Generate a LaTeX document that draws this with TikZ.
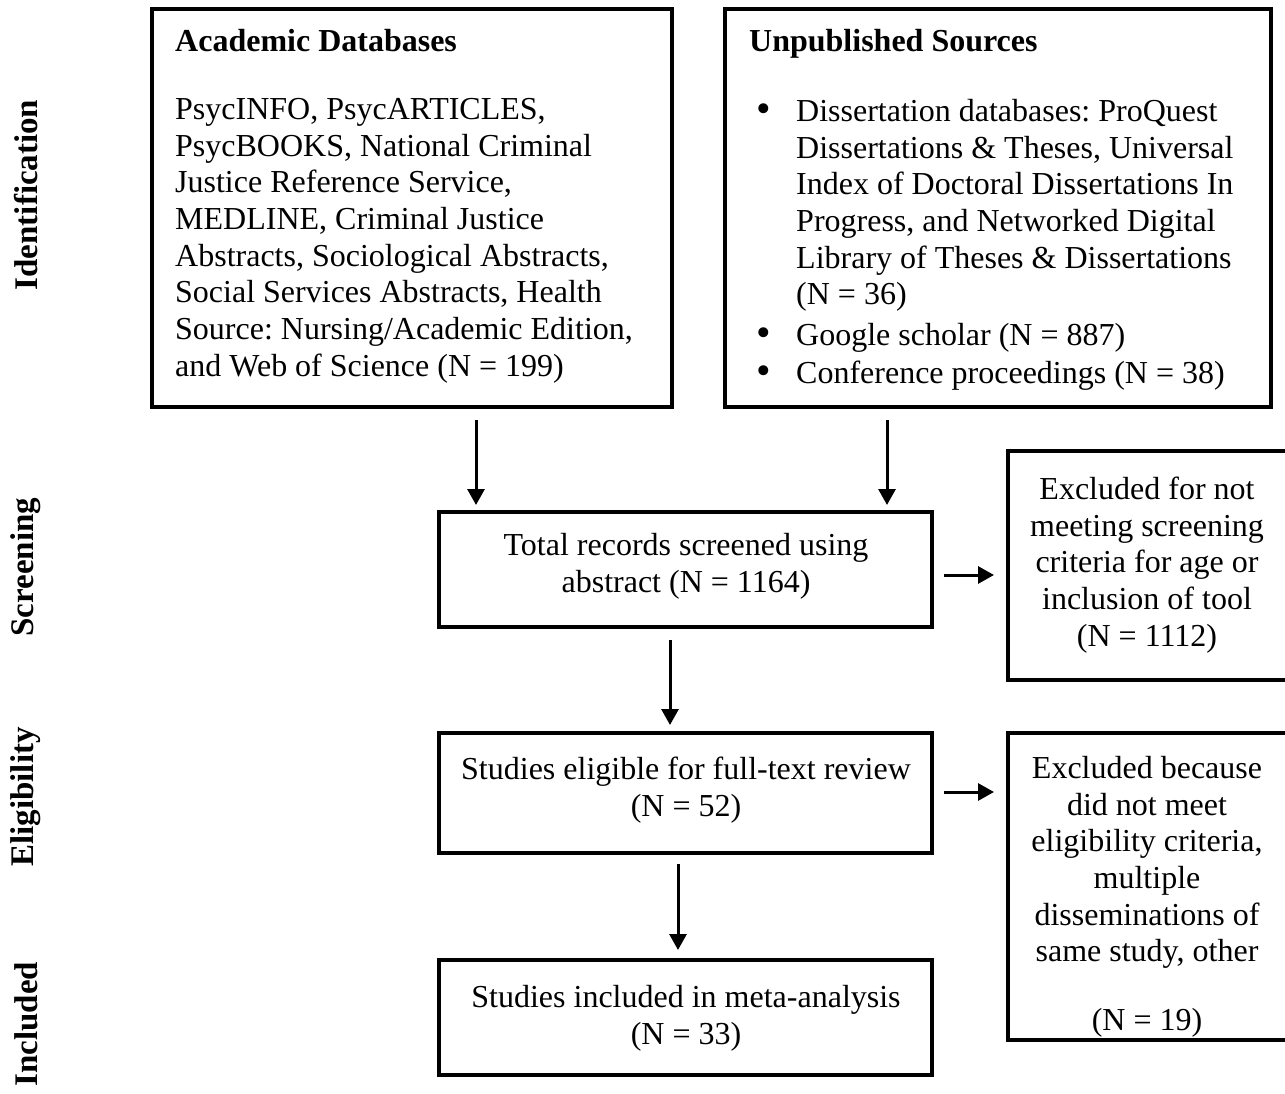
\documentclass[tikz,border=0pt]{standalone}
\usepackage{fontspec}
\setmainfont{Liberation Serif}
\usetikzlibrary{arrows.meta}
\newcommand\ubul{\makebox[47pt][l]{\hspace{7pt}\raisebox{-1pt}{\scalebox{1.3}{\textbullet}}}}
\newcommand\uind{\hspace*{47pt}}
\frenchspacing
\begin{document}
\begin{tikzpicture}[x=1pt,y=-1pt,
  box/.style={draw,line width=4pt,inner sep=0pt},
  txt/.style={font=\fontsize{32}{36.7}\selectfont,inner sep=0pt},
  side/.style={font=\fontsize{33}{40}\selectfont\bfseries,rotate=90,inner sep=0pt},
  arr/.style={line width=3pt,-{Triangle[length=16pt,width=17pt]}}]
\useasboundingbox (0,0) rectangle (1285,1094);
\clip (0,0) rectangle (1285,1094);
% side labels
\node[side] (lid) at (26,195) {Identification};
\node[side] (lsc) at (26,567) {Screening};
\node[side] (lel) at (26,797) {Eligibility};
\node[side] (lin) at (26,1024) {Included};
% boxes
\node[box,minimum width=520pt,minimum height=398pt] (acad) at (412,208) {};
\node[box,minimum width=546pt,minimum height=398pt] (unpub) at (998,208) {};
\node[box,minimum width=493pt,minimum height=115pt] (screen) at (685.5,569.5) {};
\node[box,minimum width=287pt,minimum height=229pt] (excl1) at (1151.5,565.5) {};
\node[box,minimum width=493pt,minimum height=120pt] (elig) at (685.5,793) {};
\node[box,minimum width=287pt,minimum height=307pt] (excl2) at (1151.5,886.5) {};
\node[box,minimum width=493pt,minimum height=115pt] (incl) at (685.5,1017.5) {};
% texts
\node[txt,anchor=north west,align=left] (acadtxt) at (175,29) {\textbf{Academic Databases}\\[31.3pt]
PsycINFO, PsycARTICLES,\\
PsycBOOKS, National Criminal\\
Justice Reference Service,\\
MEDLINE, Criminal Justice\\
Abstracts, Sociological Abstracts,\\
Social Services Abstracts, Health\\
Source: Nursing/Academic Edition,\\
and Web of Science (N = 199)};
\node[txt,anchor=north west,align=left] (unpubtxt) at (749,29) {\textbf{Unpublished Sources}\\[33.3pt]
\ubul Dissertation databases: ProQuest\\
\uind Dissertations \& Theses, Universal\\
\uind Index of Doctoral Dissertations In\\
\uind Progress, and Networked Digital\\
\uind Library of Theses \& Dissertations\\
\uind (N = 36)\\[4pt]
\ubul Google scholar (N = 887)\\[1.5pt]
\ubul Conference proceedings (N = 38)};
\node[txt,align=center] (screentxt) at (686,566) {Total records screened using\\abstract (N = 1164)};
\node[txt,align=center] (excl1txt) at (1147,565) {Excluded for not\\meeting screening\\criteria for age or\\inclusion of tool\\(N = 1112)};
\node[txt,align=center] (eligtxt) at (686,790) {Studies eligible for full-text review\\(N = 52)};
\node[txt,align=center,anchor=north] (excl2txt) at (1147,756) {Excluded because\\did not meet\\eligibility criteria,\\multiple\\disseminations of\\same study, other\\[32pt](N = 19)};
\node[txt,align=center] (incltxt) at (686,1018) {Studies included in meta-analysis\\(N = 33)};
% arrows
\draw[arr] ([shift={(326,11)}]acad.south west) -- ([shift={(39,-5)}]screen.north west);
\draw[arr] ([shift={(164,11)}]unpub.south west) -- ([shift={(450,-5)}]screen.north west);
\draw[arr] ([shift={(10,5.5)}]screen.east) -- ([shift={(-12,9.5)}]excl1.west);
\draw[arr] ([shift={(233,11)}]screen.south west) -- ([shift={(233,-6)}]elig.north west);
\draw[arr] ([shift={(10,-1)}]elig.east) -- ([shift={(-12,-94.5)}]excl2.west);
\draw[arr] ([shift={(241,9)}]elig.south west) -- ([shift={(241,-8)}]incl.north west);
\end{tikzpicture}
\end{document}
